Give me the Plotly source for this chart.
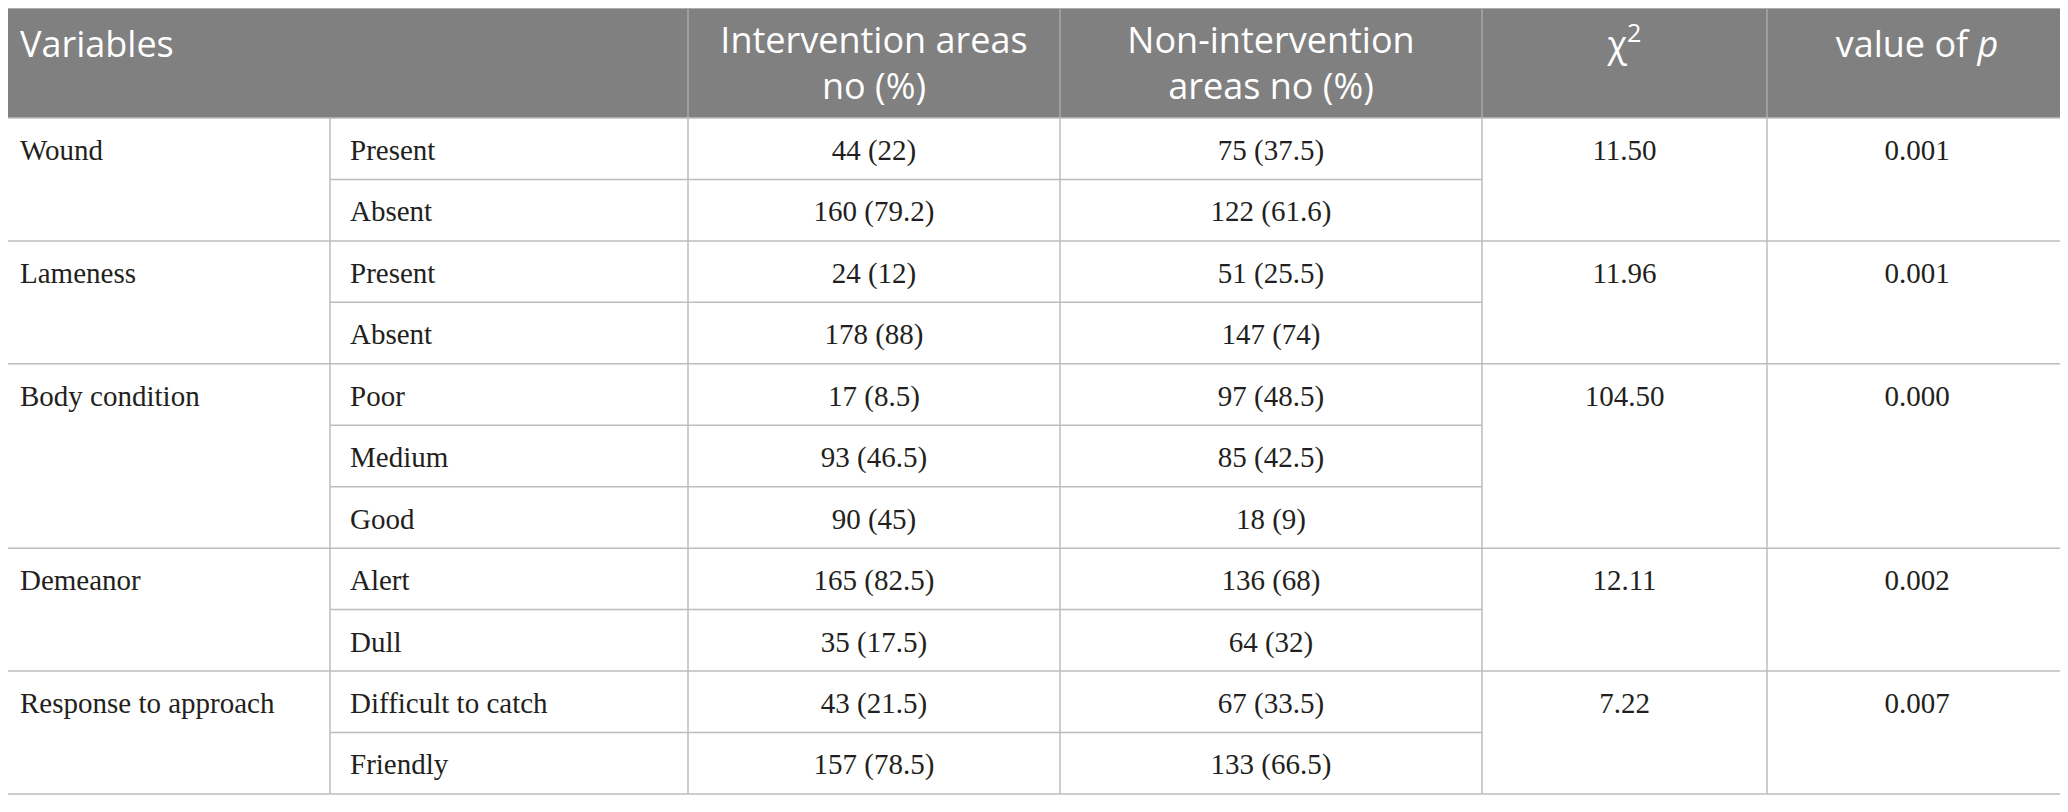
import plotly.graph_objects as go

# ---------------- data ----------------
variables = ["Wound", "Lameness", "Body condition", "Demeanor", "Response to approach"]
levels = [["Present", "Absent"],
          ["Present", "Absent"],
          ["Poor", "Medium", "Good"],
          ["Alert", "Dull"],
          ["Difficult to catch", "Friendly"]]
intervention_n = [44, 160, 24, 178, 17, 93, 90, 165, 35, 43, 157]
intervention_pct = [22, 79.2, 12, 88, 8.5, 46.5, 45, 82.5, 17.5, 21.5, 78.5]
non_intervention_n = [75, 122, 51, 147, 97, 85, 18, 136, 64, 67, 133]
non_intervention_pct = [37.5, 61.6, 25.5, 74, 48.5, 42.5, 9, 68, 32, 33.5, 66.5]
chi2 = [11.50, 11.96, 104.50, 12.11, 7.22]
p_values = [0.001, 0.001, 0.000, 0.002, 0.007]
header_single = ["Variables", "\u03c7<sup>2</sup>", "value of <i>p</i>"]
header_double = ["Intervention areas<br>no (%)", "Non-intervention<br>areas no (%)"]

# ---------------- layout constants ----------------
W, H = 2068, 812
OFF = 8  # page body margin
col_edges = [0, 330, 688, 1060, 1482, 1767, 2067]
header_top, header_bottom = 8, 118
row_h = 61.45
pad = 20
text_dy = 4
header_fill = "#808080"
header_sep = "#a9a9a9"
grid = "#bdbdbd"
body_color = "#231f20"
body_font = dict(family="Liberation Serif", size=29, color=body_color)
head_font = dict(family="Open Sans", size=36, color="white")

n_rows = sum(len(l) for l in levels)
body_bottom = header_bottom + n_rows * row_h


def row_center(i):
    return header_bottom + (i + 0.5) * row_h + text_dy


def col_center(c):
    return (col_edges[c] + col_edges[c + 1]) / 2


group_start = []
s = 0
for l in levels:
    group_start.append(s)
    s += len(l)

fig = go.Figure()

# ---------------- shapes (grid) ----------------
shapes = []
shapes.append(dict(type="rect", xref="x", yref="y", x0=col_edges[0], x1=col_edges[-1],
                   y0=header_top, y1=header_bottom, fillcolor=header_fill, line=dict(width=0), layer="below"))
shapes.append(dict(type="line", xref="x", yref="y", x0=col_edges[0], x1=col_edges[-1],
                   y0=header_top, y1=header_top, line=dict(color=grid, width=1.5)))
for xe in col_edges[2:-1]:
    shapes.append(dict(type="line", xref="x", yref="y", x0=xe, x1=xe, y0=header_top, y1=header_bottom,
                       line=dict(color=header_sep, width=1.5)))
for xe in [col_edges[-1]]:
    shapes.append(dict(type="line", xref="x", yref="y", x0=xe, x1=xe, y0=header_top, y1=body_bottom,
                       line=dict(color=grid, width=1.5)))
for xe in col_edges[1:-1]:
    shapes.append(dict(type="line", xref="x", yref="y", x0=xe, x1=xe, y0=header_bottom, y1=body_bottom,
                       line=dict(color=grid, width=1.5)))
# horizontal lines
for r in range(n_rows + 1):
    yv = header_bottom + r * row_h
    if r in group_start or r == n_rows:
        x0, x1 = col_edges[0], col_edges[-1]
    else:
        x0, x1 = col_edges[1], col_edges[4]
    shapes.append(dict(type="line", xref="x", yref="y", x0=x0, x1=x1, y0=yv, y1=yv,
                       line=dict(color=grid, width=1.5)))

# ---------------- text ----------------
def add_text(xs, ys, texts, pos, font):
    fig.add_trace(go.Scatter(x=xs, y=ys, text=texts, mode="text", textposition=pos,
                             textfont=font, hoverinfo="skip", showlegend=False, cliponaxis=False))

# header
add_text([col_edges[0] + pad], [48], header_single[:1], "middle right", head_font)
add_text([col_center(4), col_center(5)], [48, 48], header_single[1:], "middle center", head_font)
add_text([col_center(2), col_center(3)], [67, 67], header_double, "middle center", head_font)

# body
rows_y = [row_center(i) for i in range(n_rows)]
group_y = [row_center(g) for g in group_start]
level_list = [lv for l in levels for lv in l]
add_text([col_edges[0] + pad] * len(variables), group_y, variables, "middle right", body_font)
add_text([col_edges[1] + pad] * n_rows, rows_y, level_list, "middle right", body_font)
add_text([col_center(2)] * n_rows, rows_y,
         [f"{n} ({p:g})" for n, p in zip(intervention_n, intervention_pct)], "middle center", body_font)
add_text([col_center(3)] * n_rows, rows_y,
         [f"{n} ({p:g})" for n, p in zip(non_intervention_n, non_intervention_pct)], "middle center", body_font)
add_text([col_center(4)] * len(chi2), group_y, [f"{c:.2f}" for c in chi2], "middle center", body_font)
add_text([col_center(5)] * len(p_values), group_y, [f"{p:.3f}" for p in p_values], "middle center", body_font)

fig.update_layout(
    width=W - OFF, height=H - OFF,
    margin=dict(l=0, r=0, t=0, b=0),
    paper_bgcolor="white", plot_bgcolor="white",
    shapes=shapes,
    xaxis=dict(range=[OFF, W], visible=False, fixedrange=True),
    yaxis=dict(range=[H, OFF], visible=False, fixedrange=True),
    showlegend=False,
)

fig.write_html("out.html")
